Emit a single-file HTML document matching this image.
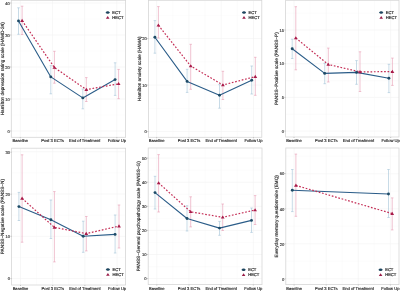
<!DOCTYPE html>
<html><head><meta charset="utf-8"><style>
html,body{margin:0;padding:0;background:#fff;width:400px;height:291px;overflow:hidden}
svg{display:block;will-change:transform;filter:blur(0.35px)}
text{font-family:"Liberation Sans",sans-serif;text-rendering:geometricPrecision;stroke:currentColor;stroke-width:0.14px}
</style></head><body>
<svg width="400" height="291" viewBox="0 0 400 291">
<rect width="400" height="291" fill="#fff"/>
<g><line x1="11.3" x2="125.6" y1="131" y2="131" stroke="#f2f2f2" stroke-width="0.6"/><line x1="11.3" x2="125.6" y1="115" y2="115" stroke="#f7f7f7" stroke-width="0.4"/><line x1="11.3" x2="125.6" y1="99" y2="99" stroke="#f2f2f2" stroke-width="0.6"/><line x1="11.3" x2="125.6" y1="83" y2="83" stroke="#f7f7f7" stroke-width="0.4"/><line x1="11.3" x2="125.6" y1="67" y2="67" stroke="#f2f2f2" stroke-width="0.6"/><line x1="11.3" x2="125.6" y1="51" y2="51" stroke="#f7f7f7" stroke-width="0.4"/><line x1="11.3" x2="125.6" y1="35" y2="35" stroke="#f2f2f2" stroke-width="0.6"/><line x1="11.3" x2="125.6" y1="19" y2="19" stroke="#f7f7f7" stroke-width="0.4"/><line x1="11.3" x2="125.6" y1="3" y2="3" stroke="#f2f2f2" stroke-width="0.6"/><line x1="20.3" x2="20.3" y1="0.3" y2="137.3" stroke="#f2f2f2" stroke-width="0.6"/><line x1="36.39" x2="36.39" y1="0.3" y2="137.3" stroke="#f7f7f7" stroke-width="0.4"/><line x1="52.48" x2="52.48" y1="0.3" y2="137.3" stroke="#f2f2f2" stroke-width="0.6"/><line x1="68.58" x2="68.58" y1="0.3" y2="137.3" stroke="#f7f7f7" stroke-width="0.4"/><line x1="84.67" x2="84.67" y1="0.3" y2="137.3" stroke="#f2f2f2" stroke-width="0.6"/><line x1="100.76" x2="100.76" y1="0.3" y2="137.3" stroke="#f7f7f7" stroke-width="0.4"/><line x1="116.85" x2="116.85" y1="0.3" y2="137.3" stroke="#f2f2f2" stroke-width="0.6"/><rect x="11.3" y="0.3" width="114.3" height="137" fill="none" stroke="#d6d6d6" stroke-width="0.8"/><line x1="10" x2="11.3" y1="131" y2="131" stroke="#999" stroke-width="0.5"/><text x="9.7" y="132.7" font-size="4.1" text-anchor="end" fill="#333" color="#333">0</text><line x1="10" x2="11.3" y1="99" y2="99" stroke="#999" stroke-width="0.5"/><text x="9.7" y="100.7" font-size="4.1" text-anchor="end" fill="#333" color="#333">10</text><line x1="10" x2="11.3" y1="67" y2="67" stroke="#999" stroke-width="0.5"/><text x="9.7" y="68.7" font-size="4.1" text-anchor="end" fill="#333" color="#333">20</text><line x1="10" x2="11.3" y1="35" y2="35" stroke="#999" stroke-width="0.5"/><text x="9.7" y="36.7" font-size="4.1" text-anchor="end" fill="#333" color="#333">30</text><line x1="10" x2="11.3" y1="3" y2="3" stroke="#999" stroke-width="0.5"/><text x="9.7" y="4.7" font-size="4.1" text-anchor="end" fill="#333" color="#333">40</text><line x1="20.3" x2="20.3" y1="137.3" y2="138.3" stroke="#999" stroke-width="0.5"/><text x="20.3" y="141.6" font-size="4.1" text-anchor="middle" fill="#222" color="#222">Baseline</text><line x1="52.48" x2="52.48" y1="137.3" y2="138.3" stroke="#999" stroke-width="0.5"/><text x="52.48" y="141.6" font-size="4.1" text-anchor="middle" fill="#222" color="#222">Post 3 ECTs</text><line x1="84.67" x2="84.67" y1="137.3" y2="138.3" stroke="#999" stroke-width="0.5"/><text x="84.67" y="141.6" font-size="4.1" text-anchor="middle" fill="#222" color="#222">End of Treatment</text><line x1="116.85" x2="116.85" y1="137.3" y2="138.3" stroke="#999" stroke-width="0.5"/><text x="116.85" y="141.6" font-size="4.1" text-anchor="middle" fill="#222" color="#222">Follow Up</text><text transform="translate(3.5,68.8) rotate(-90)" font-size="4.7" text-anchor="middle" fill="#222" color="#222">Hamilton depression rating scale (HAMD-24)</text><path d="M18.5 7.8V34.3M17.25 7.8H19.75M17.25 34.3H19.75" stroke="#a2c2d6" stroke-width="0.6" fill="none"/><path d="M50.8 65.6V93.8M49.55 65.6H52.05M49.55 93.8H52.05" stroke="#a2c2d6" stroke-width="0.6" fill="none"/><path d="M82.8 89V108.8M81.55 89H84.05M81.55 108.8H84.05" stroke="#a2c2d6" stroke-width="0.6" fill="none"/><path d="M115.1 62.8V95.4M113.85 62.8H116.35M113.85 95.4H116.35" stroke="#a2c2d6" stroke-width="0.6" fill="none"/><path d="M22.1 6.2V34.5M20.85 6.2H23.35M20.85 34.5H23.35" stroke="#e69ab2" stroke-width="0.6" fill="none"/><path d="M54.4 51.3V83.2M53.15 51.3H55.65M53.15 83.2H55.65" stroke="#e69ab2" stroke-width="0.6" fill="none"/><path d="M86.3 77.6V101.5M85.05 77.6H87.55M85.05 101.5H87.55" stroke="#e69ab2" stroke-width="0.6" fill="none"/><path d="M118.6 69.4V98.7M117.35 69.4H119.85M117.35 98.7H119.85" stroke="#e69ab2" stroke-width="0.6" fill="none"/><polyline points="18.5,20.9 50.8,76.9 82.8,97.9 115.1,79.6" fill="none" stroke="#2a5c88" stroke-width="1.1" stroke-linejoin="round"/><polyline points="22.1,20.6 54.4,67.5 86.3,89.6 118.6,83.8" fill="none" stroke="#c42e56" stroke-width="1.2" stroke-dasharray="1.7 1.7"/><circle cx="18.5" cy="20.9" r="1.45" fill="#1d4a66"/><circle cx="50.8" cy="76.9" r="1.45" fill="#1d4a66"/><circle cx="82.8" cy="97.9" r="1.45" fill="#1d4a66"/><circle cx="115.1" cy="79.6" r="1.45" fill="#1d4a66"/><path d="M22.1 18.8L24 21.9H20.2Z" fill="#a81b4a"/><path d="M54.4 65.7L56.3 68.8H52.5Z" fill="#a81b4a"/><path d="M86.3 87.8L88.2 90.9H84.4Z" fill="#a81b4a"/><path d="M118.6 82L120.5 85.1H116.7Z" fill="#a81b4a"/><ellipse cx="107.7" cy="12.6" rx="1.7" ry="1.25" fill="#1a3d55"/><path d="M105.7 12.6H109.7" stroke="#1d4a66" stroke-width="0.8"/><text x="112.3" y="14.05" font-size="4.1" fill="#2a2a2a" color="#2a2a2a" style="stroke-width:0.2px">ECT</text><path d="M107.7 16.1L109.5 18.8H105.9Z" fill="#9a1c48"/><text x="112.3" y="19.05" font-size="4.1" fill="#2a2a2a" color="#2a2a2a" style="stroke-width:0.2px">HECT</text></g><g><line x1="148.4" x2="261.8" y1="131.6" y2="131.6" stroke="#f2f2f2" stroke-width="0.6"/><line x1="148.4" x2="261.8" y1="108.35" y2="108.35" stroke="#f7f7f7" stroke-width="0.4"/><line x1="148.4" x2="261.8" y1="85.1" y2="85.1" stroke="#f2f2f2" stroke-width="0.6"/><line x1="148.4" x2="261.8" y1="61.85" y2="61.85" stroke="#f7f7f7" stroke-width="0.4"/><line x1="148.4" x2="261.8" y1="38.6" y2="38.6" stroke="#f2f2f2" stroke-width="0.6"/><line x1="148.4" x2="261.8" y1="15.35" y2="15.35" stroke="#f7f7f7" stroke-width="0.4"/><line x1="156.65" x2="156.65" y1="0.3" y2="137.3" stroke="#f2f2f2" stroke-width="0.6"/><line x1="172.79" x2="172.79" y1="0.3" y2="137.3" stroke="#f7f7f7" stroke-width="0.4"/><line x1="188.93" x2="188.93" y1="0.3" y2="137.3" stroke="#f2f2f2" stroke-width="0.6"/><line x1="205.07" x2="205.07" y1="0.3" y2="137.3" stroke="#f7f7f7" stroke-width="0.4"/><line x1="221.22" x2="221.22" y1="0.3" y2="137.3" stroke="#f2f2f2" stroke-width="0.6"/><line x1="237.36" x2="237.36" y1="0.3" y2="137.3" stroke="#f7f7f7" stroke-width="0.4"/><line x1="253.5" x2="253.5" y1="0.3" y2="137.3" stroke="#f2f2f2" stroke-width="0.6"/><rect x="148.4" y="0.3" width="113.4" height="137" fill="none" stroke="#d6d6d6" stroke-width="0.8"/><line x1="147.1" x2="148.4" y1="131.6" y2="131.6" stroke="#999" stroke-width="0.5"/><text x="146.8" y="133.3" font-size="4.1" text-anchor="end" fill="#333" color="#333">0</text><line x1="147.1" x2="148.4" y1="85.1" y2="85.1" stroke="#999" stroke-width="0.5"/><text x="146.8" y="86.8" font-size="4.1" text-anchor="end" fill="#333" color="#333">10</text><line x1="147.1" x2="148.4" y1="38.6" y2="38.6" stroke="#999" stroke-width="0.5"/><text x="146.8" y="40.3" font-size="4.1" text-anchor="end" fill="#333" color="#333">20</text><line x1="156.65" x2="156.65" y1="137.3" y2="138.3" stroke="#999" stroke-width="0.5"/><text x="156.65" y="141.6" font-size="4.1" text-anchor="middle" fill="#222" color="#222">Baseline</text><line x1="188.93" x2="188.93" y1="137.3" y2="138.3" stroke="#999" stroke-width="0.5"/><text x="188.93" y="141.6" font-size="4.1" text-anchor="middle" fill="#222" color="#222">Post 3 ECTs</text><line x1="221.22" x2="221.22" y1="137.3" y2="138.3" stroke="#999" stroke-width="0.5"/><text x="221.22" y="141.6" font-size="4.1" text-anchor="middle" fill="#222" color="#222">End of Treatment</text><line x1="253.5" x2="253.5" y1="137.3" y2="138.3" stroke="#999" stroke-width="0.5"/><text x="253.5" y="141.6" font-size="4.1" text-anchor="middle" fill="#222" color="#222">Follow Up</text><text transform="translate(140.6,68.8) rotate(-90)" font-size="4.7" text-anchor="middle" fill="#222" color="#222">Hamilton anxiety scale (HAMA)</text><path d="M154.9 20.6V53.2M153.65 20.6H156.15M153.65 53.2H156.15" stroke="#a2c2d6" stroke-width="0.6" fill="none"/><path d="M187.1 69.3V92.4M185.85 69.3H188.35M185.85 92.4H188.35" stroke="#a2c2d6" stroke-width="0.6" fill="none"/><path d="M219.5 84.6V108.2M218.25 84.6H220.75M218.25 108.2H220.75" stroke="#a2c2d6" stroke-width="0.6" fill="none"/><path d="M251.7 66V94M250.45 66H252.95M250.45 94H252.95" stroke="#a2c2d6" stroke-width="0.6" fill="none"/><path d="M158.4 6.6V38M157.15 6.6H159.65M157.15 38H159.65" stroke="#e69ab2" stroke-width="0.6" fill="none"/><path d="M190.7 44.3V89.3M189.45 44.3H191.95M189.45 89.3H191.95" stroke="#e69ab2" stroke-width="0.6" fill="none"/><path d="M222.9 71.3V99.5M221.65 71.3H224.15M221.65 99.5H224.15" stroke="#e69ab2" stroke-width="0.6" fill="none"/><path d="M255.3 57.3V95.3M254.05 57.3H256.55M254.05 95.3H256.55" stroke="#e69ab2" stroke-width="0.6" fill="none"/><polyline points="154.9,37.2 187.1,81.4 219.5,95.2 251.7,80.2" fill="none" stroke="#2a5c88" stroke-width="1.1" stroke-linejoin="round"/><polyline points="158.4,25.3 190.7,66 222.9,85 255.3,76.6" fill="none" stroke="#c42e56" stroke-width="1.2" stroke-dasharray="1.7 1.7"/><circle cx="154.9" cy="37.2" r="1.45" fill="#1d4a66"/><circle cx="187.1" cy="81.4" r="1.45" fill="#1d4a66"/><circle cx="219.5" cy="95.2" r="1.45" fill="#1d4a66"/><circle cx="251.7" cy="80.2" r="1.45" fill="#1d4a66"/><path d="M158.4 23.5L160.3 26.6H156.5Z" fill="#a81b4a"/><path d="M190.7 64.2L192.6 67.3H188.8Z" fill="#a81b4a"/><path d="M222.9 83.2L224.8 86.3H221Z" fill="#a81b4a"/><path d="M255.3 74.8L257.2 77.9H253.4Z" fill="#a81b4a"/><ellipse cx="244" cy="12.6" rx="1.7" ry="1.25" fill="#1a3d55"/><path d="M242 12.6H246" stroke="#1d4a66" stroke-width="0.8"/><text x="248.6" y="14.05" font-size="4.1" fill="#2a2a2a" color="#2a2a2a" style="stroke-width:0.2px">ECT</text><path d="M244 16.1L245.8 18.8H242.2Z" fill="#9a1c48"/><text x="248.6" y="19.05" font-size="4.1" fill="#2a2a2a" color="#2a2a2a" style="stroke-width:0.2px">HECT</text></g><g><line x1="285.6" x2="399" y1="131.1" y2="131.1" stroke="#f2f2f2" stroke-width="0.6"/><line x1="285.6" x2="399" y1="114.25" y2="114.25" stroke="#f7f7f7" stroke-width="0.4"/><line x1="285.6" x2="399" y1="97.4" y2="97.4" stroke="#f2f2f2" stroke-width="0.6"/><line x1="285.6" x2="399" y1="80.55" y2="80.55" stroke="#f7f7f7" stroke-width="0.4"/><line x1="285.6" x2="399" y1="63.7" y2="63.7" stroke="#f2f2f2" stroke-width="0.6"/><line x1="285.6" x2="399" y1="46.85" y2="46.85" stroke="#f7f7f7" stroke-width="0.4"/><line x1="285.6" x2="399" y1="30" y2="30" stroke="#f2f2f2" stroke-width="0.6"/><line x1="285.6" x2="399" y1="13.15" y2="13.15" stroke="#f7f7f7" stroke-width="0.4"/><line x1="294" x2="294" y1="0.3" y2="137" stroke="#f2f2f2" stroke-width="0.6"/><line x1="310.11" x2="310.11" y1="0.3" y2="137" stroke="#f7f7f7" stroke-width="0.4"/><line x1="326.22" x2="326.22" y1="0.3" y2="137" stroke="#f2f2f2" stroke-width="0.6"/><line x1="342.32" x2="342.32" y1="0.3" y2="137" stroke="#f7f7f7" stroke-width="0.4"/><line x1="358.43" x2="358.43" y1="0.3" y2="137" stroke="#f2f2f2" stroke-width="0.6"/><line x1="374.54" x2="374.54" y1="0.3" y2="137" stroke="#f7f7f7" stroke-width="0.4"/><line x1="390.65" x2="390.65" y1="0.3" y2="137" stroke="#f2f2f2" stroke-width="0.6"/><rect x="285.6" y="0.3" width="113.4" height="136.7" fill="none" stroke="#d6d6d6" stroke-width="0.8"/><line x1="284.3" x2="285.6" y1="131.1" y2="131.1" stroke="#999" stroke-width="0.5"/><text x="284" y="132.8" font-size="4.1" text-anchor="end" fill="#333" color="#333">0</text><line x1="284.3" x2="285.6" y1="97.4" y2="97.4" stroke="#999" stroke-width="0.5"/><text x="284" y="99.1" font-size="4.1" text-anchor="end" fill="#333" color="#333">5</text><line x1="284.3" x2="285.6" y1="63.7" y2="63.7" stroke="#999" stroke-width="0.5"/><text x="284" y="65.4" font-size="4.1" text-anchor="end" fill="#333" color="#333">10</text><line x1="284.3" x2="285.6" y1="30" y2="30" stroke="#999" stroke-width="0.5"/><text x="284" y="31.7" font-size="4.1" text-anchor="end" fill="#333" color="#333">15</text><line x1="294" x2="294" y1="137" y2="138" stroke="#999" stroke-width="0.5"/><text x="294" y="141.6" font-size="4.1" text-anchor="middle" fill="#222" color="#222">Baseline</text><line x1="326.22" x2="326.22" y1="137" y2="138" stroke="#999" stroke-width="0.5"/><text x="326.22" y="141.6" font-size="4.1" text-anchor="middle" fill="#222" color="#222">Post 3 ECTs</text><line x1="358.43" x2="358.43" y1="137" y2="138" stroke="#999" stroke-width="0.5"/><text x="358.43" y="141.6" font-size="4.1" text-anchor="middle" fill="#222" color="#222">End of Treatment</text><line x1="390.65" x2="390.65" y1="137" y2="138" stroke="#999" stroke-width="0.5"/><text x="390.65" y="141.6" font-size="4.1" text-anchor="middle" fill="#222" color="#222">Follow Up</text><text transform="translate(277.8,68.65) rotate(-90)" font-size="4.7" text-anchor="middle" fill="#222" color="#222">PANSS−Positive scale (PANSS−P)</text><path d="M292.2 39.2V58.5M290.95 39.2H293.45M290.95 58.5H293.45" stroke="#a2c2d6" stroke-width="0.6" fill="none"/><path d="M324.7 63.3V83.7M323.45 63.3H325.95M323.45 83.7H325.95" stroke="#a2c2d6" stroke-width="0.6" fill="none"/><path d="M356.5 60.6V84.3M355.25 60.6H357.75M355.25 84.3H357.75" stroke="#a2c2d6" stroke-width="0.6" fill="none"/><path d="M388.9 64.3V92.6M387.65 64.3H390.15M387.65 92.6H390.15" stroke="#a2c2d6" stroke-width="0.6" fill="none"/><path d="M295.8 6.7V69.8M294.55 6.7H297.05M294.55 69.8H297.05" stroke="#e69ab2" stroke-width="0.6" fill="none"/><path d="M328.3 48.1V82M327.05 48.1H329.55M327.05 82H329.55" stroke="#e69ab2" stroke-width="0.6" fill="none"/><path d="M360 51.8V91.5M358.75 51.8H361.25M358.75 91.5H361.25" stroke="#e69ab2" stroke-width="0.6" fill="none"/><path d="M392.4 58.1V85.4M391.15 58.1H393.65M391.15 85.4H393.65" stroke="#e69ab2" stroke-width="0.6" fill="none"/><polyline points="292.2,48.8 324.7,73.4 356.5,72.4 388.9,78.2" fill="none" stroke="#2a5c88" stroke-width="1.1" stroke-linejoin="round"/><polyline points="295.8,38 328.3,64.5 360,71.9 392.4,71.6" fill="none" stroke="#c42e56" stroke-width="1.2" stroke-dasharray="1.7 1.7"/><circle cx="292.2" cy="48.8" r="1.45" fill="#1d4a66"/><circle cx="324.7" cy="73.4" r="1.45" fill="#1d4a66"/><circle cx="356.5" cy="72.4" r="1.45" fill="#1d4a66"/><circle cx="388.9" cy="78.2" r="1.45" fill="#1d4a66"/><path d="M295.8 36.2L297.7 39.3H293.9Z" fill="#a81b4a"/><path d="M328.3 62.7L330.2 65.8H326.4Z" fill="#a81b4a"/><path d="M360 70.1L361.9 73.2H358.1Z" fill="#a81b4a"/><path d="M392.4 69.8L394.3 72.9H390.5Z" fill="#a81b4a"/><ellipse cx="381.2" cy="12.6" rx="1.7" ry="1.25" fill="#1a3d55"/><path d="M379.2 12.6H383.2" stroke="#1d4a66" stroke-width="0.8"/><text x="385.8" y="14.05" font-size="4.1" fill="#2a2a2a" color="#2a2a2a" style="stroke-width:0.2px">ECT</text><path d="M381.2 16.1L383 18.8H379.4Z" fill="#9a1c48"/><text x="385.8" y="19.05" font-size="4.1" fill="#2a2a2a" color="#2a2a2a" style="stroke-width:0.2px">HECT</text></g><g><line x1="11.6" x2="125.6" y1="278.6" y2="278.6" stroke="#f2f2f2" stroke-width="0.6"/><line x1="11.6" x2="125.6" y1="257.45" y2="257.45" stroke="#f7f7f7" stroke-width="0.4"/><line x1="11.6" x2="125.6" y1="236.3" y2="236.3" stroke="#f2f2f2" stroke-width="0.6"/><line x1="11.6" x2="125.6" y1="215.15" y2="215.15" stroke="#f7f7f7" stroke-width="0.4"/><line x1="11.6" x2="125.6" y1="194" y2="194" stroke="#f2f2f2" stroke-width="0.6"/><line x1="11.6" x2="125.6" y1="172.85" y2="172.85" stroke="#f7f7f7" stroke-width="0.4"/><line x1="11.6" x2="125.6" y1="151.7" y2="151.7" stroke="#f2f2f2" stroke-width="0.6"/><line x1="20.5" x2="20.5" y1="148.2" y2="285" stroke="#f2f2f2" stroke-width="0.6"/><line x1="36.59" x2="36.59" y1="148.2" y2="285" stroke="#f7f7f7" stroke-width="0.4"/><line x1="52.68" x2="52.68" y1="148.2" y2="285" stroke="#f2f2f2" stroke-width="0.6"/><line x1="68.77" x2="68.77" y1="148.2" y2="285" stroke="#f7f7f7" stroke-width="0.4"/><line x1="84.87" x2="84.87" y1="148.2" y2="285" stroke="#f2f2f2" stroke-width="0.6"/><line x1="100.96" x2="100.96" y1="148.2" y2="285" stroke="#f7f7f7" stroke-width="0.4"/><line x1="117.05" x2="117.05" y1="148.2" y2="285" stroke="#f2f2f2" stroke-width="0.6"/><rect x="11.6" y="148.2" width="114" height="136.8" fill="none" stroke="#d6d6d6" stroke-width="0.8"/><line x1="10.3" x2="11.6" y1="278.6" y2="278.6" stroke="#999" stroke-width="0.5"/><text x="10" y="280.3" font-size="4.1" text-anchor="end" fill="#333" color="#333">0</text><line x1="10.3" x2="11.6" y1="236.3" y2="236.3" stroke="#999" stroke-width="0.5"/><text x="10" y="238" font-size="4.1" text-anchor="end" fill="#333" color="#333">10</text><line x1="10.3" x2="11.6" y1="194.2" y2="194.2" stroke="#999" stroke-width="0.5"/><text x="10" y="195.9" font-size="4.1" text-anchor="end" fill="#333" color="#333">20</text><line x1="10.3" x2="11.6" y1="152.2" y2="152.2" stroke="#999" stroke-width="0.5"/><text x="10" y="153.9" font-size="4.1" text-anchor="end" fill="#333" color="#333">30</text><line x1="20.5" x2="20.5" y1="285" y2="286" stroke="#999" stroke-width="0.5"/><text x="20.5" y="290" font-size="4.1" text-anchor="middle" fill="#222" color="#222">Baseline</text><line x1="52.68" x2="52.68" y1="285" y2="286" stroke="#999" stroke-width="0.5"/><text x="52.68" y="290" font-size="4.1" text-anchor="middle" fill="#222" color="#222">Post 3 ECTs</text><line x1="84.87" x2="84.87" y1="285" y2="286" stroke="#999" stroke-width="0.5"/><text x="84.87" y="290" font-size="4.1" text-anchor="middle" fill="#222" color="#222">End of Treatment</text><line x1="117.05" x2="117.05" y1="285" y2="286" stroke="#999" stroke-width="0.5"/><text x="117.05" y="290" font-size="4.1" text-anchor="middle" fill="#222" color="#222">Follow Up</text><text transform="translate(3.8,216.6) rotate(-90)" font-size="4.7" text-anchor="middle" fill="#222" color="#222">PANSS−Negative scale (PANSS−N)</text><path d="M18.9 192.4V220.5M17.65 192.4H20.15M17.65 220.5H20.15" stroke="#a2c2d6" stroke-width="0.6" fill="none"/><path d="M50.9 200V238.5M49.65 200H52.15M49.65 238.5H52.15" stroke="#a2c2d6" stroke-width="0.6" fill="none"/><path d="M83.2 221.2V252.3M81.95 221.2H84.45M81.95 252.3H84.45" stroke="#a2c2d6" stroke-width="0.6" fill="none"/><path d="M115.1 215V253M113.85 215H116.35M113.85 253H116.35" stroke="#a2c2d6" stroke-width="0.6" fill="none"/><path d="M22.1 154.8V242.2M20.85 154.8H23.35M20.85 242.2H23.35" stroke="#e69ab2" stroke-width="0.6" fill="none"/><path d="M54.4 191.6V261.9M53.15 191.6H55.65M53.15 261.9H55.65" stroke="#e69ab2" stroke-width="0.6" fill="none"/><path d="M86.3 216.5V250.9M85.05 216.5H87.55M85.05 250.9H87.55" stroke="#e69ab2" stroke-width="0.6" fill="none"/><path d="M119 205V248M117.75 205H120.25M117.75 248H120.25" stroke="#e69ab2" stroke-width="0.6" fill="none"/><polyline points="18.9,206.6 50.9,219.7 83.2,236.3 115.1,234.4" fill="none" stroke="#2a5c88" stroke-width="1.1" stroke-linejoin="round"/><polyline points="22.1,198.4 54.4,227.4 86.3,233.6 119,226.1" fill="none" stroke="#c42e56" stroke-width="1.2" stroke-dasharray="1.7 1.7"/><circle cx="18.9" cy="206.6" r="1.45" fill="#1d4a66"/><circle cx="50.9" cy="219.7" r="1.45" fill="#1d4a66"/><circle cx="83.2" cy="236.3" r="1.45" fill="#1d4a66"/><circle cx="115.1" cy="234.4" r="1.45" fill="#1d4a66"/><path d="M22.1 196.6L24 199.7H20.2Z" fill="#a81b4a"/><path d="M54.4 225.6L56.3 228.7H52.5Z" fill="#a81b4a"/><path d="M86.3 231.8L88.2 234.9H84.4Z" fill="#a81b4a"/><path d="M119 224.3L120.9 227.4H117.1Z" fill="#a81b4a"/><ellipse cx="107.9" cy="269.6" rx="1.7" ry="1.25" fill="#1a3d55"/><path d="M105.9 269.6H109.9" stroke="#1d4a66" stroke-width="0.8"/><text x="112.5" y="271.05" font-size="4.1" fill="#2a2a2a" color="#2a2a2a" style="stroke-width:0.2px">ECT</text><path d="M107.9 273.1L109.7 275.8H106.1Z" fill="#9a1c48"/><text x="112.5" y="276.05" font-size="4.1" fill="#2a2a2a" color="#2a2a2a" style="stroke-width:0.2px">HECT</text></g><g><line x1="148.2" x2="262" y1="278.6" y2="278.6" stroke="#f2f2f2" stroke-width="0.6"/><line x1="148.2" x2="262" y1="266.55" y2="266.55" stroke="#f7f7f7" stroke-width="0.4"/><line x1="148.2" x2="262" y1="254.5" y2="254.5" stroke="#f2f2f2" stroke-width="0.6"/><line x1="148.2" x2="262" y1="242.45" y2="242.45" stroke="#f7f7f7" stroke-width="0.4"/><line x1="148.2" x2="262" y1="230.4" y2="230.4" stroke="#f2f2f2" stroke-width="0.6"/><line x1="148.2" x2="262" y1="218.35" y2="218.35" stroke="#f7f7f7" stroke-width="0.4"/><line x1="148.2" x2="262" y1="206.3" y2="206.3" stroke="#f2f2f2" stroke-width="0.6"/><line x1="148.2" x2="262" y1="194.25" y2="194.25" stroke="#f7f7f7" stroke-width="0.4"/><line x1="148.2" x2="262" y1="182.2" y2="182.2" stroke="#f2f2f2" stroke-width="0.6"/><line x1="148.2" x2="262" y1="170.15" y2="170.15" stroke="#f7f7f7" stroke-width="0.4"/><line x1="148.2" x2="262" y1="158.1" y2="158.1" stroke="#f2f2f2" stroke-width="0.6"/><line x1="156.8" x2="156.8" y1="148" y2="284.6" stroke="#f2f2f2" stroke-width="0.6"/><line x1="172.88" x2="172.88" y1="148" y2="284.6" stroke="#f7f7f7" stroke-width="0.4"/><line x1="188.97" x2="188.97" y1="148" y2="284.6" stroke="#f2f2f2" stroke-width="0.6"/><line x1="205.05" x2="205.05" y1="148" y2="284.6" stroke="#f7f7f7" stroke-width="0.4"/><line x1="221.13" x2="221.13" y1="148" y2="284.6" stroke="#f2f2f2" stroke-width="0.6"/><line x1="237.22" x2="237.22" y1="148" y2="284.6" stroke="#f7f7f7" stroke-width="0.4"/><line x1="253.3" x2="253.3" y1="148" y2="284.6" stroke="#f2f2f2" stroke-width="0.6"/><rect x="148.2" y="148" width="113.8" height="136.6" fill="none" stroke="#d6d6d6" stroke-width="0.8"/><line x1="146.9" x2="148.2" y1="278.6" y2="278.6" stroke="#999" stroke-width="0.5"/><text x="146.6" y="280.3" font-size="4.1" text-anchor="end" fill="#333" color="#333">0</text><line x1="146.9" x2="148.2" y1="254.5" y2="254.5" stroke="#999" stroke-width="0.5"/><text x="146.6" y="256.2" font-size="4.1" text-anchor="end" fill="#333" color="#333">10</text><line x1="146.9" x2="148.2" y1="230.4" y2="230.4" stroke="#999" stroke-width="0.5"/><text x="146.6" y="232.1" font-size="4.1" text-anchor="end" fill="#333" color="#333">20</text><line x1="146.9" x2="148.2" y1="206.3" y2="206.3" stroke="#999" stroke-width="0.5"/><text x="146.6" y="208" font-size="4.1" text-anchor="end" fill="#333" color="#333">30</text><line x1="146.9" x2="148.2" y1="182.2" y2="182.2" stroke="#999" stroke-width="0.5"/><text x="146.6" y="183.9" font-size="4.1" text-anchor="end" fill="#333" color="#333">40</text><line x1="146.9" x2="148.2" y1="158.1" y2="158.1" stroke="#999" stroke-width="0.5"/><text x="146.6" y="159.8" font-size="4.1" text-anchor="end" fill="#333" color="#333">50</text><line x1="156.8" x2="156.8" y1="284.6" y2="285.6" stroke="#999" stroke-width="0.5"/><text x="156.8" y="290" font-size="4.1" text-anchor="middle" fill="#222" color="#222">Baseline</text><line x1="188.97" x2="188.97" y1="284.6" y2="285.6" stroke="#999" stroke-width="0.5"/><text x="188.97" y="290" font-size="4.1" text-anchor="middle" fill="#222" color="#222">Post 3 ECTs</text><line x1="221.13" x2="221.13" y1="284.6" y2="285.6" stroke="#999" stroke-width="0.5"/><text x="221.13" y="290" font-size="4.1" text-anchor="middle" fill="#222" color="#222">End of Treatment</text><line x1="253.3" x2="253.3" y1="284.6" y2="285.6" stroke="#999" stroke-width="0.5"/><text x="253.3" y="290" font-size="4.1" text-anchor="middle" fill="#222" color="#222">Follow Up</text><text transform="translate(140.4,216.3) rotate(-90)" font-size="4.7" text-anchor="middle" fill="#222" color="#222">PANSS−General psychopathology scale (PANSS−G)</text><path d="M155 176.3V209M153.75 176.3H156.25M153.75 209H156.25" stroke="#a2c2d6" stroke-width="0.6" fill="none"/><path d="M187 205.7V231M185.75 205.7H188.25M185.75 231H188.25" stroke="#a2c2d6" stroke-width="0.6" fill="none"/><path d="M219.5 221.4V235.3M218.25 221.4H220.75M218.25 235.3H220.75" stroke="#a2c2d6" stroke-width="0.6" fill="none"/><path d="M251.5 208V232.4M250.25 208H252.75M250.25 232.4H252.75" stroke="#a2c2d6" stroke-width="0.6" fill="none"/><path d="M158.6 154.6V212M157.35 154.6H159.85M157.35 212H159.85" stroke="#e69ab2" stroke-width="0.6" fill="none"/><path d="M190.7 196.8V226.9M189.45 196.8H191.95M189.45 226.9H191.95" stroke="#e69ab2" stroke-width="0.6" fill="none"/><path d="M222.7 204V230.5M221.45 204H223.95M221.45 230.5H223.95" stroke="#e69ab2" stroke-width="0.6" fill="none"/><path d="M255.1 195.6V224.5M253.85 195.6H256.35M253.85 224.5H256.35" stroke="#e69ab2" stroke-width="0.6" fill="none"/><polyline points="155,192.6 187,218.5 219.5,228.1 251.5,220.4" fill="none" stroke="#2a5c88" stroke-width="1.1" stroke-linejoin="round"/><polyline points="158.6,183 190.7,211.8 222.7,217.3 255.1,210" fill="none" stroke="#c42e56" stroke-width="1.2" stroke-dasharray="1.7 1.7"/><circle cx="155" cy="192.6" r="1.45" fill="#1d4a66"/><circle cx="187" cy="218.5" r="1.45" fill="#1d4a66"/><circle cx="219.5" cy="228.1" r="1.45" fill="#1d4a66"/><circle cx="251.5" cy="220.4" r="1.45" fill="#1d4a66"/><path d="M158.6 181.2L160.5 184.3H156.7Z" fill="#a81b4a"/><path d="M190.7 210L192.6 213.1H188.8Z" fill="#a81b4a"/><path d="M222.7 215.5L224.6 218.6H220.8Z" fill="#a81b4a"/><path d="M255.1 208.2L257 211.3H253.2Z" fill="#a81b4a"/><ellipse cx="243.6" cy="269.8" rx="1.7" ry="1.25" fill="#1a3d55"/><path d="M241.6 269.8H245.6" stroke="#1d4a66" stroke-width="0.8"/><text x="248.2" y="271.25" font-size="4.1" fill="#2a2a2a" color="#2a2a2a" style="stroke-width:0.2px">ECT</text><path d="M243.6 273.3L245.4 276H241.8Z" fill="#9a1c48"/><text x="248.2" y="276.25" font-size="4.1" fill="#2a2a2a" color="#2a2a2a" style="stroke-width:0.2px">HECT</text></g><g><line x1="285.8" x2="399" y1="278.8" y2="278.8" stroke="#f2f2f2" stroke-width="0.6"/><line x1="285.8" x2="399" y1="261.3" y2="261.3" stroke="#f7f7f7" stroke-width="0.4"/><line x1="285.8" x2="399" y1="243.8" y2="243.8" stroke="#f2f2f2" stroke-width="0.6"/><line x1="285.8" x2="399" y1="226.3" y2="226.3" stroke="#f7f7f7" stroke-width="0.4"/><line x1="285.8" x2="399" y1="208.8" y2="208.8" stroke="#f2f2f2" stroke-width="0.6"/><line x1="285.8" x2="399" y1="191.3" y2="191.3" stroke="#f7f7f7" stroke-width="0.4"/><line x1="285.8" x2="399" y1="173.8" y2="173.8" stroke="#f2f2f2" stroke-width="0.6"/><line x1="285.8" x2="399" y1="156.3" y2="156.3" stroke="#f7f7f7" stroke-width="0.4"/><line x1="294.1" x2="294.1" y1="148" y2="284.6" stroke="#f2f2f2" stroke-width="0.6"/><line x1="310.14" x2="310.14" y1="148" y2="284.6" stroke="#f7f7f7" stroke-width="0.4"/><line x1="326.18" x2="326.18" y1="148" y2="284.6" stroke="#f2f2f2" stroke-width="0.6"/><line x1="342.23" x2="342.23" y1="148" y2="284.6" stroke="#f7f7f7" stroke-width="0.4"/><line x1="358.27" x2="358.27" y1="148" y2="284.6" stroke="#f2f2f2" stroke-width="0.6"/><line x1="374.31" x2="374.31" y1="148" y2="284.6" stroke="#f7f7f7" stroke-width="0.4"/><line x1="390.35" x2="390.35" y1="148" y2="284.6" stroke="#f2f2f2" stroke-width="0.6"/><rect x="285.8" y="148" width="113.2" height="136.6" fill="none" stroke="#d6d6d6" stroke-width="0.8"/><line x1="284.5" x2="285.8" y1="278.8" y2="278.8" stroke="#999" stroke-width="0.5"/><text x="284.2" y="280.5" font-size="4.1" text-anchor="end" fill="#333" color="#333">0</text><line x1="284.5" x2="285.8" y1="243.8" y2="243.8" stroke="#999" stroke-width="0.5"/><text x="284.2" y="245.5" font-size="4.1" text-anchor="end" fill="#333" color="#333">20</text><line x1="284.5" x2="285.8" y1="208.8" y2="208.8" stroke="#999" stroke-width="0.5"/><text x="284.2" y="210.5" font-size="4.1" text-anchor="end" fill="#333" color="#333">40</text><line x1="284.5" x2="285.8" y1="173.6" y2="173.6" stroke="#999" stroke-width="0.5"/><text x="284.2" y="175.3" font-size="4.1" text-anchor="end" fill="#333" color="#333">60</text><line x1="294.1" x2="294.1" y1="284.6" y2="285.6" stroke="#999" stroke-width="0.5"/><text x="294.1" y="290" font-size="4.1" text-anchor="middle" fill="#222" color="#222">Baseline</text><line x1="326.18" x2="326.18" y1="284.6" y2="285.6" stroke="#999" stroke-width="0.5"/><text x="326.18" y="290" font-size="4.1" text-anchor="middle" fill="#222" color="#222">Post 3 ECTs</text><line x1="358.27" x2="358.27" y1="284.6" y2="285.6" stroke="#999" stroke-width="0.5"/><text x="358.27" y="290" font-size="4.1" text-anchor="middle" fill="#222" color="#222">End of Treatment</text><line x1="390.35" x2="390.35" y1="284.6" y2="285.6" stroke="#999" stroke-width="0.5"/><text x="390.35" y="290" font-size="4.1" text-anchor="middle" fill="#222" color="#222">Follow Up</text><text transform="translate(278,216.3) rotate(-90)" font-size="4.7" text-anchor="middle" fill="#222" color="#222">Everyday memory questionnaire (EMQ)</text><path d="M292.3 169.5V211.6M291.05 169.5H293.55M291.05 211.6H293.55" stroke="#a2c2d6" stroke-width="0.6" fill="none"/><path d="M388.5 169.5V217.5M387.25 169.5H389.75M387.25 217.5H389.75" stroke="#a2c2d6" stroke-width="0.6" fill="none"/><path d="M295.9 154.1V216.3M294.65 154.1H297.15M294.65 216.3H297.15" stroke="#e69ab2" stroke-width="0.6" fill="none"/><path d="M392.2 197.9V229.9M390.95 197.9H393.45M390.95 229.9H393.45" stroke="#e69ab2" stroke-width="0.6" fill="none"/><polyline points="292.3,190.2 388.5,194" fill="none" stroke="#2a5c88" stroke-width="1.1" stroke-linejoin="round"/><polyline points="295.9,185.4 392.2,213.6" fill="none" stroke="#c42e56" stroke-width="1.2" stroke-dasharray="1.7 1.7"/><circle cx="292.3" cy="190.2" r="1.45" fill="#1d4a66"/><circle cx="388.5" cy="194" r="1.45" fill="#1d4a66"/><path d="M295.9 183.6L297.8 186.7H294Z" fill="#a81b4a"/><path d="M392.2 211.8L394.1 214.9H390.3Z" fill="#a81b4a"/><ellipse cx="380.6" cy="269.8" rx="1.7" ry="1.25" fill="#1a3d55"/><path d="M378.6 269.8H382.6" stroke="#1d4a66" stroke-width="0.8"/><text x="385.2" y="271.25" font-size="4.1" fill="#2a2a2a" color="#2a2a2a" style="stroke-width:0.2px">ECT</text><path d="M380.6 273.3L382.4 276H378.8Z" fill="#9a1c48"/><text x="385.2" y="276.25" font-size="4.1" fill="#2a2a2a" color="#2a2a2a" style="stroke-width:0.2px">HECT</text></g>
</svg></body></html>
